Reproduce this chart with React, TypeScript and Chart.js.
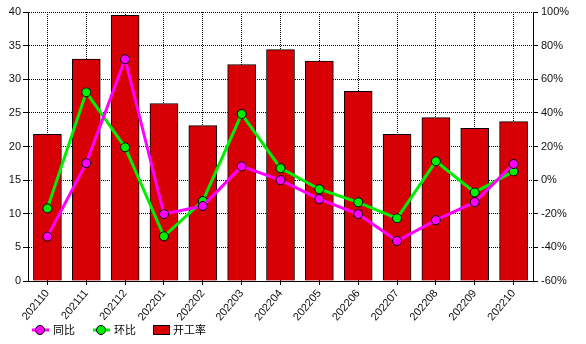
import React, { useEffect, useRef } from 'react';
import { Chart, registerables } from 'chart.js';

Chart.register(...registerables);

const categories = ['202110', '202111', '202112', '202201', '202202', '202203', '202204', '202205', '202206', '202207', '202208', '202209', '202210'];
const operatingRate = [21.8, 33.0, 39.5, 26.4, 23.1, 32.2, 34.4, 32.7, 28.2, 21.8, 24.3, 22.7, 23.7];
const yoyChange = [-33.6, 10.1, 71.9, -20.2, -15.4, 8.2, 0.0, -11.3, -20.2, -36.2, -23.8, -13.1, 9.6];
const momChange = [-16.8, 52.2, 19.5, -33.4, -12.4, 39.3, 7.1, -5.4, -13.2, -22.7, 11.2, -7.3, 5.2];
const leftTicks = { min: 0, max: 40, step: 5 };
const rightTicks = { min: -60, max: 100, step: 20 };
const seriesNames = ['同比', '环比', '开工率'];

const FONT = '"Liberation Sans", Arial, sans-serif';
const CJK = '"Noto Sans CJK SC", "Noto Sans", sans-serif';
const MAGENTA = '#ff00ff';
const GREEN = '#00ee00';
const RED = '#d60005';

export default function App() {
  const ref = useRef<HTMLCanvasElement>(null);
  useEffect(() => {
    document.body.style.margin = '0';
    const legendPlugin = {
      id: 'customLegend',
      afterDraw(chart: any) {
        const ctx = chart.ctx as CanvasRenderingContext2D;
        const y = 330;
        const names = chart.data.datasets.map((d: any) => d.label);
        ctx.save();
        const drawLineItem = (x0: number, color: string, label: string) => {
          ctx.lineWidth = 3;
          ctx.strokeStyle = color;
          ctx.beginPath();
          ctx.moveTo(x0, y);
          ctx.lineTo(x0 + 17, y);
          ctx.stroke();
          ctx.beginPath();
          ctx.arc(x0 + 8, y, 4.5, 0, Math.PI * 2);
          ctx.fillStyle = color;
          ctx.fill();
          ctx.lineWidth = 1;
          ctx.strokeStyle = '#000';
          ctx.stroke();
          ctx.fillStyle = '#000';
          ctx.font = `11px ${CJK}`;
          ctx.textBaseline = 'middle';
          ctx.textAlign = 'left';
          ctx.fillText(label, x0 + 21, y);
        };
        drawLineItem(32, MAGENTA, names[0]);
        drawLineItem(93, GREEN, names[1]);
        ctx.fillStyle = RED;
        ctx.fillRect(153.5, 325.5, 16, 9);
        ctx.lineWidth = 1;
        ctx.strokeStyle = '#000';
        ctx.strokeRect(153.5, 325.5, 16, 9);
        ctx.fillStyle = '#000';
        ctx.font = `11px ${CJK}`;
        ctx.textBaseline = 'middle';
        ctx.fillText(names[2], 173, y);
        ctx.restore();
      },
    };

    const chart = new Chart(ref.current!, {
      type: 'bar',
      data: {
        labels: categories,
        datasets: [
          {
            type: 'line',
            label: seriesNames[0],
            data: yoyChange,
            yAxisID: 'y1',
            order: 0,
            borderColor: MAGENTA,
            backgroundColor: MAGENTA,
            borderWidth: 3,
            pointRadius: 4.5,
            pointBackgroundColor: MAGENTA,
            pointBorderColor: '#000',
            pointBorderWidth: 1,
            tension: 0,
          } as any,
          {
            type: 'line',
            label: seriesNames[1],
            data: momChange,
            yAxisID: 'y1',
            order: 1,
            borderColor: GREEN,
            backgroundColor: GREEN,
            borderWidth: 3,
            pointRadius: 4.5,
            pointBackgroundColor: GREEN,
            pointBorderColor: '#000',
            pointBorderWidth: 1,
            tension: 0,
          } as any,
          {
            type: 'bar',
            label: seriesNames[2],
            data: operatingRate,
            yAxisID: 'y',
            order: 2,
            backgroundColor: RED,
            borderColor: '#000',
            borderWidth: 1,
            barThickness: 28,
          } as any,
        ],
      },
      options: {
        responsive: false,
        animation: false,
        layout: { padding: { top: 12, left: 0, right: 0, bottom: 0 } },
        plugins: { legend: { display: false }, tooltip: { enabled: false } },
        scales: {
          x: {
            offset: true,
            grid: { offset: false, color: '#000', tickLength: 4, lineWidth: 1 },
            border: { dash: [1, 1], color: '#000', width: 1 },
            ticks: {
              autoSkip: false,
              maxRotation: 50,
              minRotation: 50,
              padding: 2,
              color: '#111',
              font: { family: FONT, size: 11 },
            },
            afterFit: (s: any) => {
              s.height = 63;
            },
          },
          y: {
            position: 'left',
            min: leftTicks.min,
            max: leftTicks.max,
            ticks: { stepSize: leftTicks.step, padding: 2, color: '#111', font: { family: FONT, size: 11 } },
            grid: { color: '#000', tickLength: 5, lineWidth: 1 },
            border: { dash: [1, 1], color: '#000', width: 1 },
            afterFit: (s: any) => {
              s.width = 28;
            },
          },
          y1: {
            position: 'right',
            min: rightTicks.min,
            max: rightTicks.max,
            ticks: {
              stepSize: rightTicks.step,
              padding: 3,
              color: '#111',
              font: { family: FONT, size: 11 },
              callback: (v: any) => `${v}%`,
            },
            grid: { drawOnChartArea: false, color: '#000', tickLength: 5, lineWidth: 1 },
            border: { color: '#000', width: 1 },
            afterFit: (s: any) => {
              s.width = 53;
            },
          },
        },
      } as any,
      plugins: [legendPlugin],
    });
    return () => chart.destroy();
  }, []);
  return <canvas ref={ref} width={586} height={344} style={{ display: 'block' }} />;
}
